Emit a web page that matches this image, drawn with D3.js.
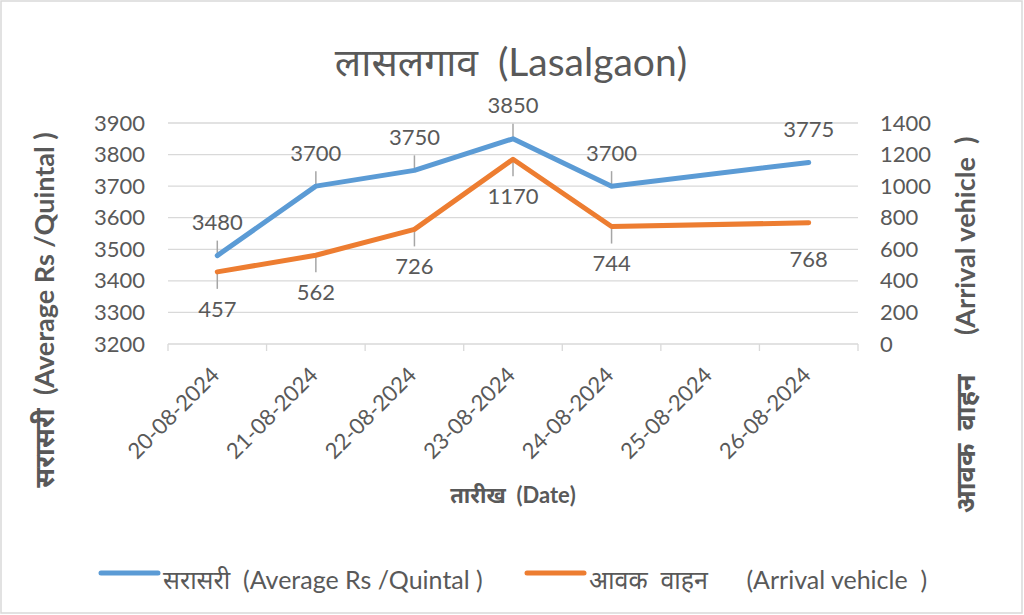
<!DOCTYPE html>
<html><head><meta charset="utf-8">
<script src="https://cdn.jsdelivr.net/npm/d3@7"></script>
<style>
body{margin:0;background:#fff;}
svg text{font-family:Lato,"Noto Sans",sans-serif;fill:#595959;white-space:pre;}
</style></head><body>
<svg id="chart" width="1024" height="615"></svg>
<script>
const categories = ["20-08-2024","21-08-2024","22-08-2024","23-08-2024","24-08-2024","25-08-2024","26-08-2024"];
const averagePrice = [3480,3700,3750,3850,3700,null,3775];
const arrivalVehicles = [457,562,726,1170,744,null,768];
const leftTicks = [3200,3300,3400,3500,3600,3700,3800,3900];
const rightTicks = [0,200,400,600,800,1000,1200,1400];
const chartTitle = "लासलगाव  (Lasalgaon)";
const xTitle = "तारीख  (Date)";
const leftTitle = "सरासरी  (Average Rs /Quintal )";
const rightTitle = "आवक  वाहन      (Arrival vehicle  )";
const seriesNames = ["सरासरी  (Average Rs /Quintal )", "आवक  वाहन      (Arrival vehicle  )"];

const svg = d3.select("#chart");
svg.append("rect").attr("x",1).attr("y",1).attr("width",1021).attr("height",612)
  .attr("fill","#fff").attr("stroke","#d9d9d9").attr("stroke-width",1.5);

const L = 168, R = 858, T = 123, B = 344;
const x = d3.scaleBand().domain(categories).range([L,R]);
const yL = d3.scaleLinear().domain([3200,3900]).range([B,T]);
const yR = d3.scaleLinear().domain([0,1400]).range([B,T]);
const cx = c => x(c) + x.bandwidth()/2;

svg.append("g").selectAll("line").data(leftTicks).join("line")
  .attr("x1",L).attr("x2",R).attr("y1",d=>yL(d)).attr("y2",d=>yL(d))
  .attr("stroke","#d9d9d9").attr("stroke-width",1.3);

const bounds = categories.map(c=>x(c)).concat([R]);
svg.append("g").selectAll("line").data(bounds).join("line")
  .attr("x1",d=>d).attr("x2",d=>d).attr("y1",B).attr("y2",B+7)
  .attr("stroke","#d9d9d9").attr("stroke-width",1.3);

const gl = svg.append("g").attr("transform",`translate(${L},0)`)
  .call(d3.axisLeft(yL).tickValues(leftTicks).tickSize(0).tickPadding(23).tickFormat(d3.format("d")));
gl.select(".domain").remove();
gl.selectAll("text").style("font-size","22px").attr("fill","#595959").style("font-family","Lato");

const gr = svg.append("g").attr("transform",`translate(${R},0)`)
  .call(d3.axisRight(yR).tickValues(rightTicks).tickSize(0).tickPadding(22).tickFormat(d3.format("d")));
gr.select(".domain").remove();
gr.selectAll("text").style("font-size","22px").attr("fill","#595959").style("font-family","Lato");

svg.append("g").selectAll("text").data(categories).join("text")
  .attr("transform",d=>`translate(${cx(d)-2},${B+27}) rotate(-45)`)
  .attr("text-anchor","end").attr("dy","0.35em")
  .style("font-size","22px").text(d=>d);

const series = [
  {vals: averagePrice, y: yL, color:"#5B9BD5", off:-33, lead:-15},
  {vals: arrivalVehicles, y: yR, color:"#ED7D31", off:37, lead:17}
];
series.forEach(s=>{
  const pts = categories.map((c,i)=>({c, v:s.vals[i], i})).filter(p=>p.v!=null);
  const line = d3.line().x(p=>cx(p.c)).y(p=>s.y(p.v));
  svg.append("g").selectAll("line").data(pts.slice(0,-1)).join("line")
    .attr("x1",p=>cx(p.c)).attr("x2",p=>cx(p.c))
    .attr("y1",p=>s.y(p.v)).attr("y2",p=>s.y(p.v)+s.lead)
    .attr("stroke","#a6a6a6").attr("stroke-width",1.5);
  svg.append("path").datum(pts).attr("d",line).attr("fill","none")
    .attr("stroke",s.color).attr("stroke-width",5).attr("stroke-linecap","round").attr("stroke-linejoin","round");
  svg.append("g").selectAll("text").data(pts).join("text")
    .attr("x",p=>cx(p.c)).attr("y",p=>s.y(p.v)+s.off)
    .attr("text-anchor","middle").attr("dy","0.35em")
    .style("font-size","22px").text(p=>p.v);
});

svg.append("text").attr("x",511).attr("y",62).attr("text-anchor","middle").attr("dy","0.35em")
  .style("font-size","39px").text(chartTitle);
svg.append("text").attr("x",513).attr("y",495).attr("text-anchor","middle").attr("dy","0.35em")
  .style("font-size","22px").style("font-weight","bold").text(xTitle);
svg.append("text").attr("transform","translate(45,310) rotate(-90)").attr("text-anchor","middle").attr("dy","0.35em")
  .style("font-size","27px").style("font-weight","bold").text(leftTitle);
svg.append("text").attr("transform","translate(966,325) rotate(-90)").attr("text-anchor","middle").attr("dy","0.35em")
  .style("font-size","27px").style("font-weight","bold").text(rightTitle);

const legend = [{x:101, color:"#5B9BD5"},{x:527, color:"#ED7D31"}];
legend.forEach((l,i)=>{
  svg.append("line").attr("x1",l.x).attr("x2",l.x+57).attr("y1",573).attr("y2",573)
    .attr("stroke",l.color).attr("stroke-width",5).attr("stroke-linecap","round");
  svg.append("text").attr("x",l.x+62).attr("y",580).attr("dy","0.35em")
    .style("font-size","25px").text(seriesNames[i]);
});
</script></body></html>
